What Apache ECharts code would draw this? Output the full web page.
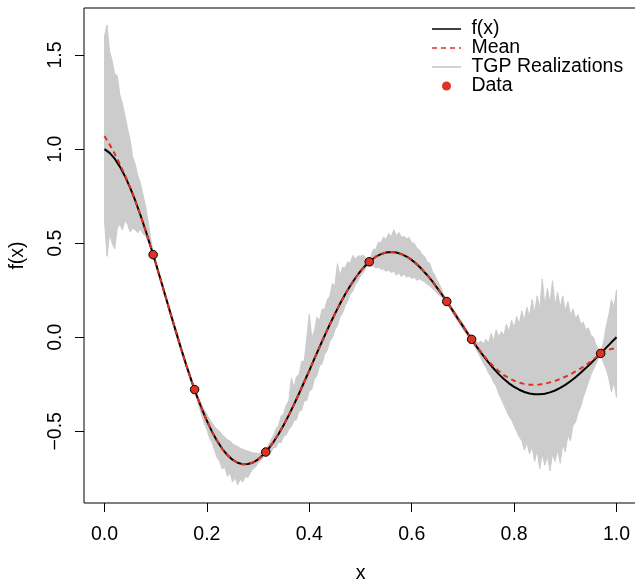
<!DOCTYPE html>
<html><head><meta charset="utf-8">
<script src="https://cdn.jsdelivr.net/npm/echarts@6/dist/echarts.min.js"></script>
<style>html,body{margin:0;padding:0;background:#fff}#c{width:635px;height:579px}</style>
</head><body><div id="c"></div><script>
// ---- data ----
const xTicks = [0, 0.2, 0.4, 0.6, 0.8, 1.0];
const yTicks = [-0.5, 0, 0.5, 1.0, 1.5];

// true function f(x), sampled every 0.01 from x = 0 to 1
const fVals = [1.000,0.980,0.949,0.907,0.856,0.795,0.727,0.651,0.570,0.484,
0.395,0.303,0.210,0.117,0.026,-0.064,-0.150,-0.232,-0.309,-0.380,
-0.444,-0.502,-0.551,-0.593,-0.626,-0.651,-0.667,-0.675,-0.674,-0.666,
-0.649,-0.625,-0.594,-0.557,-0.514,-0.466,-0.414,-0.358,-0.299,-0.238,
-0.177,-0.114,-0.052,0.009,0.068,0.124,0.178,0.228,0.274,0.315,
0.351,0.382,0.408,0.428,0.442,0.450,0.453,0.450,0.442,0.429,
0.411,0.388,0.361,0.331,0.298,0.261,0.223,0.183,0.142,0.100,
0.059,0.017,-0.023,-0.062,-0.099,-0.134,-0.166,-0.196,-0.222,-0.245,
-0.264,-0.279,-0.291,-0.299,-0.303,-0.303,-0.300,-0.293,-0.283,-0.269,
-0.253,-0.234,-0.213,-0.189,-0.164,-0.138,-0.111,-0.083,-0.055,-0.027,0.000];

// posterior mean, same sampling
const meanVals = [1.070,1.025,0.975,0.920,0.862,0.797,0.728,0.651,0.570,0.484,
0.395,0.303,0.210,0.117,0.026,-0.064,-0.150,-0.232,-0.309,-0.380,
-0.444,-0.502,-0.551,-0.593,-0.626,-0.651,-0.667,-0.675,-0.674,-0.666,
-0.649,-0.625,-0.594,-0.557,-0.514,-0.466,-0.414,-0.358,-0.299,-0.238,
-0.177,-0.114,-0.052,0.009,0.068,0.124,0.178,0.228,0.274,0.315,
0.351,0.382,0.408,0.428,0.442,0.450,0.453,0.450,0.442,0.429,
0.411,0.388,0.361,0.331,0.298,0.261,0.223,0.183,0.142,0.100,
0.059,0.017,-0.022,-0.060,-0.095,-0.127,-0.155,-0.180,-0.201,-0.218,
-0.231,-0.241,-0.248,-0.252,-0.253,-0.251,-0.247,-0.240,-0.232,-0.222,
-0.210,-0.197,-0.182,-0.166,-0.148,-0.128,-0.106,-0.084,-0.070,-0.062,-0.057];

// envelope of the TGP realizations, sampled every 0.005 from x = 0 to 1
const bandHigh = [1.60,1.66,1.52,1.47,1.40,1.39,1.29,1.24,1.18,1.11,
1.05,0.96,0.92,0.86,0.82,0.76,0.70,0.62,0.53,0.45,
0.405,0.36,0.315,0.27,0.222,0.176,0.13,0.084,0.04,-0.005,
-0.05,-0.093,-0.137,-0.18,-0.222,-0.263,-0.298,-0.33,-0.36,-0.385,
-0.41,-0.435,-0.455,-0.475,-0.49,-0.50,-0.52,-0.53,-0.545,-0.55,
-0.565,-0.575,-0.58,-0.59,-0.595,-0.60,-0.605,-0.61,-0.615,-0.615,
-0.62,-0.615,-0.61,-0.60,-0.574,-0.546,-0.522,-0.486,-0.469,-0.42,
-0.406,-0.36,-0.339,-0.216,-0.268,-0.208,-0.199,-0.128,-0.128,-0.007,
0.123,-0.005,0.036,0.107,0.088,0.149,0.149,0.199,0.218,0.286,
0.274,0.391,0.328,0.373,0.368,0.401,0.394,0.435,0.415,0.433,
0.431,0.437,0.422,0.41,0.428,0.468,0.468,0.506,0.502,0.532,
0.52,0.552,0.533,0.572,0.54,0.557,0.532,0.536,0.524,0.53,
0.501,0.50,0.473,0.465,0.441,0.431,0.401,0.395,0.353,0.33,
0.301,0.277,0.243,0.213,0.19,0.175,0.155,0.135,0.115,0.095,
0.075,0.052,0.03,0.008,-0.01,-0.02,-0.03,-0.02,-0.035,-0.01,
-0.03,0.02,-0.02,0.04,0.0,0.03,0.01,0.07,0.03,0.09,
0.05,0.11,0.07,0.14,0.09,0.16,0.11,0.20,0.13,0.22,
0.15,0.31,0.17,0.26,0.18,0.30,0.17,0.24,0.16,0.22,
0.14,0.19,0.12,0.15,0.10,0.12,0.07,0.08,0.04,0.05,
0.01,0.0,-0.04,-0.065,-0.075,-0.02,0.06,0.12,0.20,0.16,
0.25];
const bandLow = [0.62,0.43,0.55,0.50,0.47,0.58,0.60,0.57,0.62,0.60,
0.56,0.58,0.57,0.555,0.575,0.55,0.54,0.51,0.47,0.43,
0.385,0.335,0.29,0.243,0.196,0.149,0.102,0.056,0.011,-0.035,
-0.08,-0.123,-0.166,-0.205,-0.245,-0.281,-0.325,-0.37,-0.415,-0.46,
-0.49,-0.535,-0.56,-0.60,-0.64,-0.66,-0.70,-0.69,-0.74,-0.72,
-0.77,-0.745,-0.785,-0.755,-0.77,-0.74,-0.745,-0.72,-0.70,-0.69,
-0.67,-0.655,-0.64,-0.62,-0.614,-0.611,-0.587,-0.586,-0.559,-0.56,
-0.526,-0.52,-0.489,-0.476,-0.443,-0.438,-0.394,-0.388,-0.338,-0.337,
-0.287,-0.275,-0.224,-0.203,-0.152,-0.141,-0.091,-0.071,-0.022,-0.004,
0.039,0.061,0.108,0.128,0.168,0.191,0.229,0.245,0.28,0.298,
0.326,0.342,0.367,0.385,0.378,0.378,0.368,0.371,0.362,0.362,
0.35,0.357,0.343,0.352,0.33,0.342,0.322,0.336,0.319,0.325,
0.311,0.32,0.303,0.31,0.301,0.296,0.281,0.275,0.258,0.25,
0.231,0.222,0.208,0.193,0.175,0.15,0.128,0.105,0.085,0.064,
0.043,0.022,0.003,-0.013,-0.035,-0.06,-0.085,-0.11,-0.14,-0.16,
-0.19,-0.21,-0.24,-0.26,-0.30,-0.33,-0.36,-0.39,-0.42,-0.44,
-0.47,-0.50,-0.53,-0.55,-0.60,-0.56,-0.62,-0.58,-0.66,-0.60,
-0.70,-0.62,-0.68,-0.63,-0.71,-0.62,-0.66,-0.60,-0.67,-0.57,
-0.61,-0.52,-0.55,-0.47,-0.45,-0.40,-0.37,-0.32,-0.28,-0.24,
-0.20,-0.17,-0.14,-0.11,-0.095,-0.14,-0.17,-0.22,-0.29,-0.24,
-0.32];

// observed data points
const dataX = [0.095, 0.176, 0.315, 0.517, 0.6685, 0.717, 0.969];
const dataY = [0.439, -0.278, -0.610, 0.401, 0.190, -0.011, -0.086];

// sampling grids
const fX = fVals.map((_, i) => i / 100);
const bandX = bandHigh.map((_, i) => i / 200);

// ---- chart ----
const FONT = '"Liberation Sans", Arial, Helvetica, sans-serif';
const RED = '#df3224';
const GREY = '#cccccc';
const FS = 19.5;
const NOSYM = {color: 'rgba(0,0,0,0)', borderWidth: 0};
const fmt = v => (v < 0 ? '\u2212' + Math.abs(v).toFixed(1) : v.toFixed(1));

const outline = bandX.map((x, i) => [x, bandHigh[i]])
  .concat(bandX.map((x, i) => [x, bandLow[i]]).reverse());
outline.push([bandX[0], bandHigh[0]]);

const chart = echarts.init(document.getElementById('c'), null, {renderer: 'canvas'});
chart.setOption({
  animation: false,
  backgroundColor: '#fff',
  grid: {left: 84, top: 8, width: 553, height: 495, show: true, borderColor: '#000', borderWidth: 1,
         backgroundColor: 'transparent', containLabel: false, outerBoundsMode: 'none'},
  legend: {
    show: true, orient: 'vertical', left: 431, top: 19, padding: 0, itemWidth: 29, itemHeight: 9, itemGap: -1,
    selectedMode: false, formatter: ' {name}',
    textStyle: {fontSize: FS, color: '#000', fontFamily: FONT},
    data: [
      {name: 'f(x)', itemStyle: NOSYM, lineStyle: {width: 1.5}},
      {name: 'Mean', itemStyle: NOSYM, lineStyle: {width: 1.5}},
      {name: 'TGP Realizations', itemStyle: NOSYM, lineStyle: {width: 2, color: '#d3d3d3'}},
      {name: 'Data', icon: 'circle', itemStyle: {borderWidth: 0, color: RED}}
    ]
  },
  xAxis: {
    type: 'value', min: -0.04, max: 1.04,
    axisLine: {show: false, onZero: false}, splitLine: {show: false},
    axisTick: {show: true, customValues: xTicks, length: 9, lineStyle: {color: '#000', width: 1}},
    axisLabel: {customValues: xTicks, formatter: fmt, fontSize: FS, color: '#000', margin: 22, fontFamily: FONT},
    name: 'x', nameLocation: 'middle', nameGap: 61,
    nameTextStyle: {fontSize: FS, color: '#000', fontFamily: FONT}
  },
  yAxis: {
    type: 'value', min: -0.881, max: 1.750,
    axisLine: {show: false, onZero: false}, splitLine: {show: false},
    axisTick: {show: true, customValues: yTicks, length: 9, lineStyle: {color: '#000', width: 1}},
    axisLabel: {customValues: yTicks, formatter: fmt, rotate: 90, fontSize: FS, color: '#000', margin: 18, fontFamily: FONT},
    name: 'f(x)', nameLocation: 'middle', nameGap: 56,
    nameTextStyle: {fontSize: FS, color: '#000', fontFamily: FONT}
  },
  series: [
    {
      type: 'custom', name: 'band', coordinateSystem: 'cartesian2d', silent: true, z: 1, clip: false,
      data: [[0.5, 0]],
      renderItem: function (params, api) {
        const pts = [];
        for (let i = 0; i < bandX.length; i++) pts.push(api.coord([bandX[i], bandHigh[i]]));
        for (let i = bandX.length - 1; i >= 0; i--) pts.push(api.coord([bandX[i], bandLow[i]]));
        return {type: 'polygon', shape: {points: pts}, style: {fill: GREY}};
      }
    },
    {
      type: 'line', name: 'TGP Realizations', data: outline, symbol: 'none', z: 2, silent: true,
      lineStyle: {color: GREY, width: 1}, itemStyle: {color: GREY}
    },
    {
      type: 'line', name: 'f(x)', data: fX.map((x, i) => [x, fVals[i]]), symbol: 'none', z: 3,
      lineStyle: {color: '#000', width: 2}, itemStyle: {color: '#000'}
    },
    {
      type: 'line', name: 'Mean', data: fX.map((x, i) => [x, meanVals[i]]), symbol: 'none', z: 4,
      lineStyle: {color: RED, width: 2, type: [5, 4]}, itemStyle: {color: RED}
    },
    {
      type: 'scatter', name: 'Data', data: dataX.map((x, i) => [x, dataY[i]]), symbol: 'circle', symbolSize: 8.5, z: 5,
      itemStyle: {color: RED, borderColor: '#000', borderWidth: 1, opacity: 1}
    }
  ]
});
</script></body></html>
